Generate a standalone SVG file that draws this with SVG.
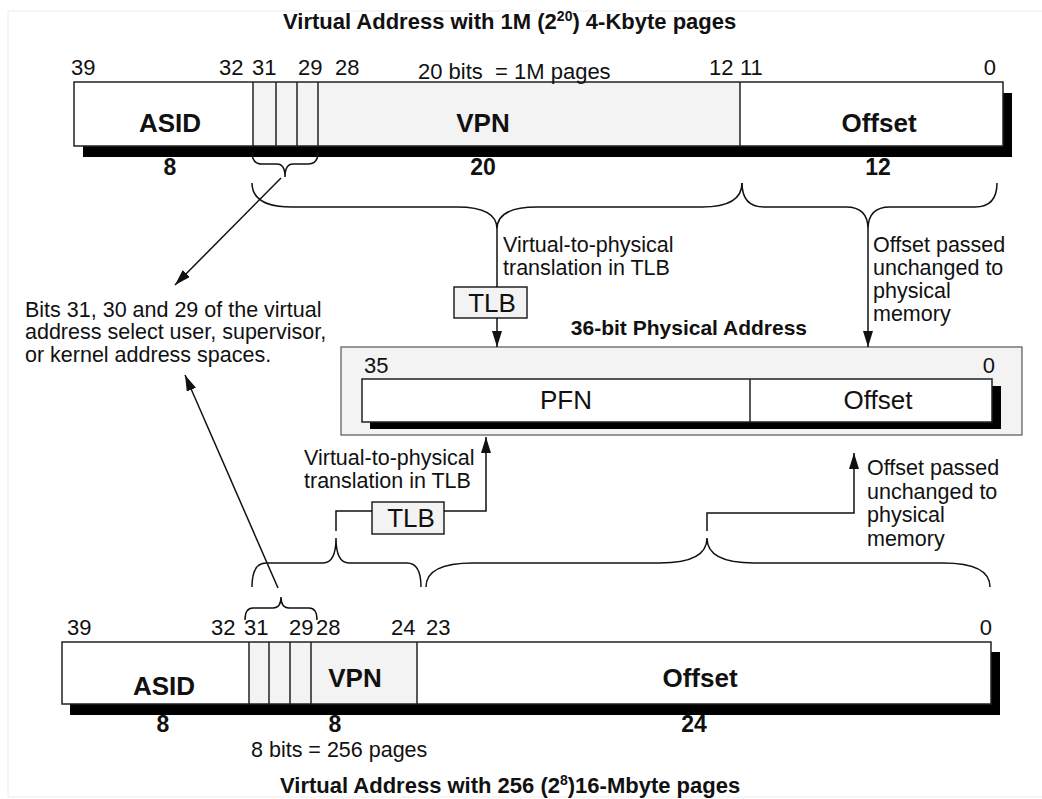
<svg xmlns="http://www.w3.org/2000/svg" width="1042" height="799" viewBox="0 0 1042 799">
<style>
  text { font-family: "Liberation Sans", Arial, sans-serif; fill: #111; }
  .t { font-size: 21.5px; }
  .n { font-size: 22px; }
  .title { font-size: 22px; font-weight: bold; }
  .fld { font-size: 26px; font-weight: bold; text-anchor: middle; }
  .w { font-size: 23px; font-weight: bold; text-anchor: middle; }
  .pf { font-size: 26px; text-anchor: middle; }
  .end { text-anchor: end; }
  .sh { fill: #000; }
  .box { fill: #fff; }
  .gray { fill: #f3f3f3; }
  .ol { fill: none; stroke: #222; stroke-width: 1.5; }
  .div { stroke: #222; stroke-width: 1.5; }
  .c { fill: none; stroke: #111; stroke-width: 1.5; }
</style>
<defs>
  <marker id="ah" viewBox="0 0 16 10" refX="16" refY="5" markerWidth="16" markerHeight="10" markerUnits="userSpaceOnUse" orient="auto">
    <path d="M0,0 L16,5 L0,10 z" fill="#111"/>
  </marker>
</defs>

<rect x="8" y="11" width="1040" height="786" fill="none" stroke="#eeeeee" stroke-width="1"/>

<g id="title-top">
  <text class="title" x="283" y="29">Virtual Address with 1M (2<tspan font-size="14" dy="-8">20</tspan><tspan dy="8">) 4-Kbyte pages</tspan></text>
</g>

<g id="va-top">
  <rect class="sh" x="83" y="93" width="929" height="64"/>
  <rect class="box" x="74" y="82" width="929" height="64"/>
  <rect class="gray" x="253" y="82" width="487" height="64"/>
  <rect class="ol" x="74" y="82" width="929" height="64"/>
  <line class="div" x1="253" y1="82" x2="253" y2="146"/>
  <line class="div" x1="276" y1="82" x2="276" y2="146"/>
  <line class="div" x1="297" y1="82" x2="297" y2="146"/>
  <line class="div" x1="318" y1="82" x2="318" y2="146"/>
  <line class="div" x1="740" y1="82" x2="740" y2="146"/>
  <text class="n" x="71" y="75">39</text>
  <text class="n" x="219" y="75">32</text>
  <text class="n" x="252" y="75">31</text>
  <text class="n" x="298" y="75">29</text>
  <text class="n" x="335" y="75">28</text>
  <text class="n" x="418" y="79" xml:space="preserve">20 bits  = 1M pages</text>
  <text class="n" x="709" y="75">12</text>
  <text class="n" x="740" y="75">11</text>
  <text class="n end" x="996" y="75">0</text>
  <text class="fld" x="170" y="132">ASID</text>
  <text class="fld" x="483" y="132">VPN</text>
  <text class="fld" x="879" y="132">Offset</text>
  <text class="w" x="170" y="175">8</text>
  <text class="w" x="483" y="175">20</text>
  <text class="w" x="878" y="175">12</text>
</g>

<g id="tlb-top">
  <rect class="gray" x="454" y="287" width="73" height="31" stroke="#222" stroke-width="1.5"/>
  <text class="pf" x="492" y="312">TLB</text>
</g>

<g id="note-tlb-top">
  <text class="t" x="503" y="252">Virtual-to-physical</text>
  <text class="t" x="503" y="275">translation in TLB</text>
</g>

<g id="note-offset-top">
  <text class="t" x="873" y="252">Offset passed</text>
  <text class="t" x="873" y="275">unchanged to</text>
  <text class="t" x="873" y="298">physical</text>
  <text class="t" x="873" y="321">memory</text>
</g>

<g id="note-bits">
  <text class="t" x="25" y="317">Bits 31, 30 and 29 of the virtual</text>
  <text class="t" x="25" y="339">address select user, supervisor,</text>
  <text class="t" x="25" y="362">or kernel address spaces.</text>
</g>

<g id="pa">
  <text class="title" x="807" y="335" text-anchor="end" style="font-size:21px">36-bit Physical Address</text>
  <rect x="341" y="347" width="681" height="88" fill="#f3f3f3" stroke="#555" stroke-width="1.2"/>
  <rect class="sh" x="370" y="386" width="631" height="43"/>
  <rect class="box" x="362" y="379" width="630" height="43" stroke="#222" stroke-width="1.5"/>
  <line class="div" x1="750" y1="379" x2="750" y2="422"/>
  <text class="n" x="364" y="373">35</text>
  <text class="n end" x="995" y="373">0</text>
  <text class="pf" x="566" y="409">PFN</text>
  <text class="pf" x="878" y="409">Offset</text>
</g>

<g id="note-tlb-bottom">
  <text class="t" x="304" y="465">Virtual-to-physical</text>
  <text class="t" x="304" y="488">translation in TLB</text>
</g>

<g id="note-offset-bottom">
  <text class="t" x="867" y="475">Offset passed</text>
  <text class="t" x="867" y="499">unchanged to</text>
  <text class="t" x="867" y="522">physical</text>
  <text class="t" x="867" y="546">memory</text>
</g>

<g id="tlb-bottom">
  <rect class="gray" x="372" y="502" width="72" height="32" stroke="#222" stroke-width="1.5"/>
  <text class="pf" x="411" y="527">TLB</text>
</g>

<g id="va-bottom">
  <rect class="sh" x="70" y="652" width="930" height="63"/>
  <rect class="box" x="62" y="642" width="929" height="62"/>
  <rect class="gray" x="249" y="642" width="168" height="62"/>
  <rect class="ol" x="62" y="642" width="929" height="62"/>
  <line class="div" x1="249" y1="642" x2="249" y2="704"/>
  <line class="div" x1="269" y1="642" x2="269" y2="704"/>
  <line class="div" x1="290" y1="642" x2="290" y2="704"/>
  <line class="div" x1="311" y1="642" x2="311" y2="704"/>
  <line class="div" x1="417" y1="642" x2="417" y2="704"/>
  <text class="n" x="67" y="635">39</text>
  <text class="n" x="211" y="635">32</text>
  <text class="n" x="244" y="635">31</text>
  <text class="n" x="289" y="635">29</text>
  <text class="n" x="316" y="635">28</text>
  <text class="n" x="391" y="635">24</text>
  <text class="n" x="426" y="635">23</text>
  <text class="n end" x="992" y="635">0</text>
  <text class="fld" x="164" y="695">ASID</text>
  <text class="fld" x="355" y="687">VPN</text>
  <text class="fld" x="700" y="687">Offset</text>
  <text class="w" x="163" y="732">8</text>
  <text class="w" x="335" y="732">8</text>
  <text class="w" x="694" y="732">24</text>
  <text class="t" x="251" y="757">8 bits = 256 pages</text>
</g>

<g id="title-bottom">
  <text class="title" x="280" y="793">Virtual Address with 256 (2<tspan font-size="14" dy="-8">8</tspan><tspan dy="8">)16-Mbyte pages</tspan></text>
</g>

<g id="connectors">
  <path class="c" d="M252,152 Q252,164 262,164 L277,164 Q285,164 285,177 M318,152 Q318,164 308,164 L293,164 Q285,164 285,177"/>
  <path class="c" d="M252,183 Q252,207 292,207 L457,207 Q497,207 497,229 M742,183 Q742,207 702,207 L537,207 Q497,207 497,229"/>
  <path class="c" d="M742,183 Q742,207 764,207 L846,207 Q868,207 868,229 M997,183 Q997,207 975,207 L890,207 Q868,207 868,229"/>
  <line class="c" x1="281" y1="178" x2="175" y2="285" marker-end="url(#ah)"/>
  <path class="c" d="M497,229 V287"/>
  <path class="c" d="M497,318 V347" marker-end="url(#ah)"/>
  <path class="c" d="M868,229 V347" marker-end="url(#ah)"/>
  <path class="c" d="M245,620 Q245,608 253,608 L273,608 Q281,608 281,597 M317,620 Q317,608 309,608 L289,608 Q281,608 281,597"/>
  <path class="c" d="M252,587 Q252,563 266,563 L323,563 Q336,563 336,538 M421,587 Q421,563 407,563 L349,563 Q336,563 336,538"/>
  <path class="c" d="M426,587 Q426,563 473,563 L660,563 Q707,563 707,538 M990,587 Q990,563 943,563 L754,563 Q707,563 707,538"/>
  <line class="c" x1="278" y1="588" x2="185" y2="375" marker-end="url(#ah)"/>
  <path class="c" d="M336,531 V511 H372"/>
  <path class="c" d="M444,511 H486 V437" marker-end="url(#ah)"/>
  <path class="c" d="M707,531 V513 H854 V453" marker-end="url(#ah)"/>
</g>
</svg>
